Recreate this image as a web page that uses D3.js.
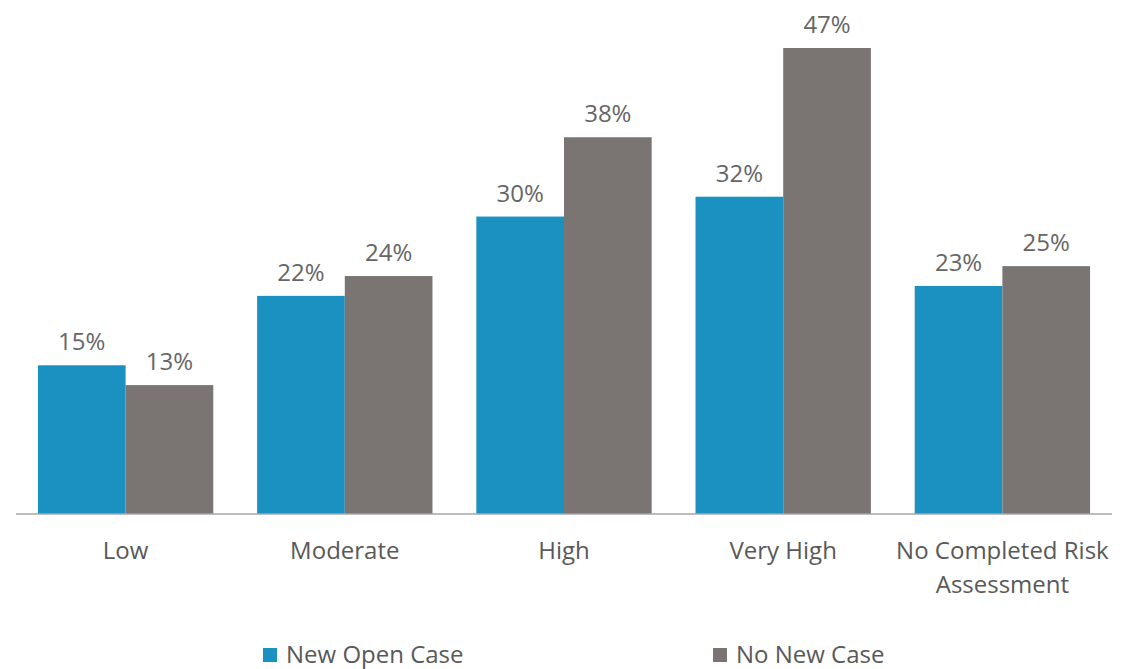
<!DOCTYPE html>
<html>
<head>
<meta charset="utf-8">
<script src="https://cdn.jsdelivr.net/npm/d3@7"></script>
<style>
  html, body { margin: 0; padding: 0; background: #fff; }
  svg { display: block; font-family: "Open Sans", "Noto Sans", sans-serif; }
</style>
</head>
<body>
<svg id="chart" width="1130" height="669"></svg>
<script>
// Risk level categories (last one wraps onto two lines)
const categories = ["Low", "Moderate", "High", "Very High", "No Completed Risk Assessment"];
const categoryLines = [["Low"], ["Moderate"], ["High"], ["Very High"], ["No Completed Risk", "Assessment"]];
const seriesNames = ["New Open Case", "No New Case"];
const newOpenCase = [15, 22, 30, 32, 23];
const noNewCase = [13, 24, 38, 47, 25];
const colors = ["#1b91c2", "#7a7572"];

const svg = d3.select("#chart");
const baseline = 514;
const fontSize = 24;

const x = d3.scaleBand()
  .domain(categories)
  .range([16, 1112])
  .paddingInner(0.2)
  .paddingOuter(0.1);

const xSub = d3.scaleBand()
  .domain(seriesNames)
  .range([0, x.bandwidth()]);

const y = d3.scaleLinear()
  .domain([0, 47])
  .range([baseline, 48]);

const rows = categories.map((c, i) => ({
  cat: c,
  vals: [
    { s: seriesNames[0], v: newOpenCase[i], color: colors[0] },
    { s: seriesNames[1], v: noNewCase[i], color: colors[1] }
  ]
}));

const groups = svg.append("g").selectAll("g")
  .data(rows)
  .join("g")
  .attr("transform", d => `translate(${x(d.cat)},0)`);

groups.selectAll("rect")
  .data(d => d.vals)
  .join("rect")
  .attr("x", d => xSub(d.s))
  .attr("y", d => y(d.v))
  .attr("width", xSub.bandwidth())
  .attr("height", d => baseline - y(d.v))
  .attr("fill", d => d.color);

groups.selectAll("text.val")
  .data(d => d.vals)
  .join("text")
  .attr("class", "val")
  .attr("x", d => xSub(d.s) + xSub.bandwidth() / 2)
  .attr("y", d => y(d.v) - 15)
  .attr("text-anchor", "middle")
  .attr("font-size", fontSize)
  .attr("fill", "#666666")
  .text(d => d.v + "%");

// Category axis line
const axis = svg.append("g")
  .attr("transform", `translate(0,${baseline})`)
  .call(d3.axisBottom(x).tickSize(0).tickFormat(""));
axis.select(".domain").attr("stroke", "#a6a6a6").attr("stroke-width", 1.5)
  .attr("d", "M16,0H1112");

const labels = svg.append("g").selectAll("text")
  .data(categories)
  .join("text")
  .attr("x", d => x(d) + x.bandwidth() / 2)
  .attr("y", 559)
  .attr("text-anchor", "middle")
  .attr("font-size", fontSize)
  .attr("fill", "#595959");

labels.each(function(d, i) {
  d3.select(this).selectAll("tspan")
    .data(categoryLines[i])
    .join("tspan")
    .attr("x", x(d) + x.bandwidth() / 2)
    .attr("dy", (t, j) => j === 0 ? 0 : 34)
    .text(t => t);
});

// Legend
const legendX = [263, 713];
const legend = svg.append("g").selectAll("g")
  .data(seriesNames)
  .join("g")
  .attr("transform", (d, i) => `translate(${legendX[i]},648)`);
legend.append("rect")
  .attr("width", 14).attr("height", 14)
  .attr("fill", (d, i) => colors[i]);
legend.append("text")
  .attr("x", 23).attr("y", 15)
  .attr("font-size", fontSize)
  .attr("fill", "#595959")
  .text(d => d);
</script>
</body>
</html>
